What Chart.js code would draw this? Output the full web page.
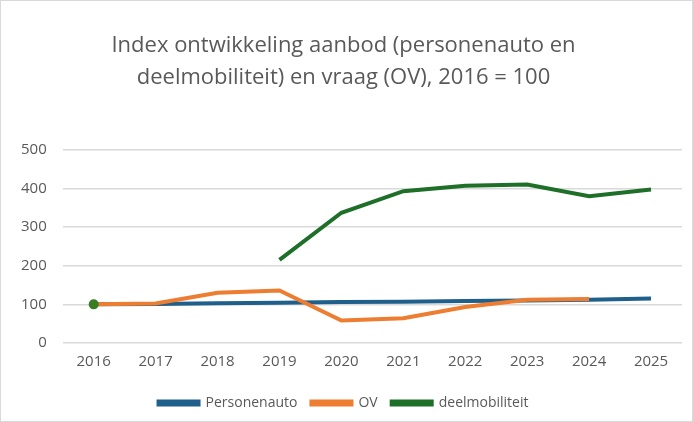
<!DOCTYPE html>
<html>
<head>
<meta charset="utf-8">
<script src="https://cdn.jsdelivr.net/npm/chart.js@4/dist/chart.umd.min.js"></script>
<style>
    html, body { margin: 0; padding: 0; background: #fff; }
    #wrap { width: 691px; height: 420px; border: 1px solid #d9d9d9; }
</style>
</head>
<body>
<div id="wrap"><canvas id="myChart" width="691" height="420"></canvas></div>
<script>
// GRAPH INDEX ONTWIKKELING

const labels = ['2016', '2017', '2018', '2019', '2020', '2021', '2022', '2023', '2024', '2025'];

const personenauto = [100, 101, 103, 104, 106, 107, 109, 110, 112, 115];
const ov = [100, 102, 130, 136, 58, 64, 93, 112, 114, null];
const deelmobiliteit = [100, null, null, 215, 337, 393, 407, 410, 380, 397];

const yTicks = [0, 100, 200, 300, 400, 500];

const data = {
    labels: labels,
    datasets: [{
        label: 'Personenauto',
        data: personenauto,
        borderColor: '#1f5f8b',
        backgroundColor: '#1f5f8b',
        borderWidth: 4,
        pointRadius: 0,
        order: 3
    }, {
        label: 'OV',
        data: ov,
        borderColor: '#ed7d31',
        backgroundColor: '#ed7d31',
        borderWidth: 4,
        pointRadius: 0,
        order: 2
    }, {
        label: 'deelmobiliteit',
        data: deelmobiliteit,
        borderColor: '#1e7028',
        backgroundColor: '#3a7d22',
        borderWidth: 4,
        pointRadius: [5, 0, 0, 0, 0, 0, 0, 0, 0, 0],
        pointBorderWidth: 0,
        order: 1
    }]
};

const config = {
    type: 'line',
    data: data,
    options: {
        responsive: false,
        animation: false,
        layout: { padding: { left: 4, right: 10, top: 29, bottom: 1 } },
        plugins: {
            title: {
                display: true,
                text: ['Index ontwikkeling aanbod (personenauto en', 'deelmobiliteit) en vraag (OV), 2016 = 100'],
                color: '#595959',
                font: { family: 'Open Sans', size: 22, weight: 'normal', lineHeight: 1.45 },
                padding: { top: 0, bottom: 56 }
            },
            legend: {
                position: 'bottom',
                labels: {
                    color: '#595959',
                    font: { family: 'Open Sans', size: 14 },
                    boxWidth: 40,
                    boxHeight: 3,
                    padding: 14,
                    sort: (a, b) => a.datasetIndex - b.datasetIndex
                }
            },
            tooltip: { enabled: false }
        },
        scales: {
            x: {
                offset: true,
                grid: { display: false },
                border: { display: false },
                ticks: { color: '#595959', font: { family: 'Open Sans', size: 15 }, padding: 2 },
                afterFit: (axis) => { axis.height += 9; }
            },
            y: {
                min: 0,
                max: 500,
                afterBuildTicks: (axis) => { axis.ticks = yTicks.map(v => ({ value: v })); },
                grid: { color: '#d9d9d9', lineWidth: 1.5, drawTicks: false },
                border: { display: false },
                ticks: { color: '#595959', font: { family: 'Open Sans', size: 15 }, padding: 16 }
            }
        }
    }
};

const myChart = new Chart(
    document.getElementById('myChart'),
    config
);

// FIN GRAPH
</script>
</body>
</html>
